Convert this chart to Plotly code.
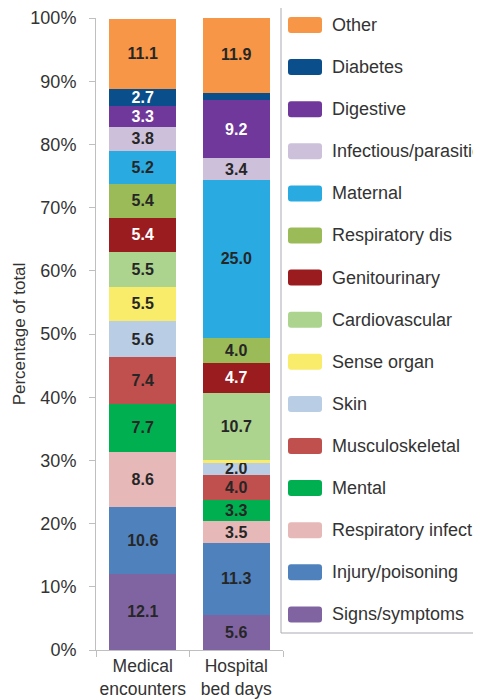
import plotly.graph_objects as go

# ---------------- data ----------------
groups = ["Medical<br>encounters", "Hospital<br>bed days"]

categories = [
    "Signs/symptoms", "Injury/poisoning", "Respiratory infect", "Mental",
    "Musculoskeletal", "Skin", "Sense organ", "Cardiovascular",
    "Genitourinary", "Respiratory dis", "Maternal", "Infectious/parasitic",
    "Digestive", "Diabetes", "Other",
]
medical_encounters = [12.1, 10.6, 8.6, 7.7, 7.4, 5.6, 5.5, 5.5, 5.4, 5.4, 5.2, 3.8, 3.3, 2.7, 11.1]
hospital_bed_days = [5.6, 11.3, 3.5, 3.3, 4.0, 2.0, 0.3, 10.7, 4.7, 4.0, 25.0, 3.4, 9.2, 1.2, 11.9]

colors = [
    "#8064a2", "#4f81bd", "#e6b9b8", "#00b050", "#c0504d", "#b9cde5",
    "#f9ec6b", "#acd48f", "#9b1c1f", "#9bbb59", "#29abe2", "#ccc0da",
    "#70389a", "#0a4f8c", "#f79646",
]
label_colors = [
    "#262626", "#262626", "#262626", "#262626", "#262626", "#262626",
    "#262626", "#262626", "#ffffff", "#262626", "#262626", "#262626",
    "#ffffff", "#ffffff", "#262626",
]

y_ticks = [0, 10, 20, 30, 40, 50, 60, 70, 80, 90, 100]
y_tick_text = [f"{t}%" for t in y_ticks]

FONT = "Liberation Sans, Arial, sans-serif"
OFF = 8  # page body margin
W, H = 481 - OFF, 700 - OFF
ML, MT = 96 - OFF, 18 - OFF
PW, PH = 187, 632
MR = W - ML - PW
MB = H - MT - PH

fig = go.Figure()
for cat, m, h, col, lc in zip(categories, medical_encounters, hospital_bed_days, colors, label_colors):
    txt = [f"<b>{v:.1f}</b>" if v >= 1.5 else "" for v in (m, h)]
    fig.add_trace(go.Bar(
        name=cat, x=groups, y=[m, h],
        marker=dict(color=col, line=dict(width=0)),
        text=txt, textposition="inside", insidetextanchor="middle",
        textangle=0, constraintext="none",
        textfont=dict(family=FONT, size=16, color=lc),
        showlegend=False, hoverinfo="skip",
    ))

# ---------------- custom legend (from category list) ----------------
def px_x(px):
    return (px - OFF - ML) / PW

def px_y(py):
    return (H - MB - (py - OFF)) / PH

shapes = [dict(
    type="rect", xref="paper", yref="paper",
    x0=px_x(281), x1=px_x(520), y0=px_y(633), y1=px_y(5),
    line=dict(color="#a9a9b3", width=1), fillcolor="rgba(0,0,0,0)", layer="below",
)]
annotations = []
step = 42.1
r = 3.0
for i, (cat, col) in enumerate(zip(categories[::-1], colors[::-1])):
    cy = 25 + i * step
    x0, x1 = 288, 322
    y0, y1 = cy - 8, cy + 8
    path = (
        f"M{px_x(x0 + r)},{px_y(y0)} L{px_x(x1 - r)},{px_y(y0)} "
        f"Q{px_x(x1)},{px_y(y0)} {px_x(x1)},{px_y(y0 + r)} "
        f"L{px_x(x1)},{px_y(y1 - r)} Q{px_x(x1)},{px_y(y1)} {px_x(x1 - r)},{px_y(y1)} "
        f"L{px_x(x0 + r)},{px_y(y1)} Q{px_x(x0)},{px_y(y1)} {px_x(x0)},{px_y(y1 - r)} "
        f"L{px_x(x0)},{px_y(y0 + r)} Q{px_x(x0)},{px_y(y0)} {px_x(x0 + r)},{px_y(y0)} Z"
    )
    shapes.append(dict(type="path", xref="paper", yref="paper", path=path,
                       fillcolor=col, line=dict(width=0)))
    annotations.append(dict(
        xref="paper", yref="paper", x=px_x(330), y=px_y(cy),
        xanchor="left", yanchor="middle", showarrow=False, text=cat,
        font=dict(family=FONT, size=18, color="#333333"),
    ))

fig.update_layout(
    width=W, height=H,
    margin=dict(l=ML, r=MR, t=MT, b=MB, pad=0, autoexpand=False),
    barmode="stack", bargap=0.28,
    plot_bgcolor="white", paper_bgcolor="white",
    font=dict(family=FONT, color="#333333"),
    shapes=shapes, annotations=annotations,
    showlegend=False,
)
fig.update_yaxes(
    range=[0, 100], tickvals=y_ticks, ticktext=y_tick_text,
    showgrid=False, zeroline=False, automargin=False,
    showline=True, linecolor="#bfbfbf", linewidth=1,
    ticks="outside", ticklen=6, tickcolor="#bfbfbf",
    tickfont=dict(family=FONT, size=18, color="#333333"),
    ticklabelstandoff=9,
    title=dict(text="Percentage of total", font=dict(family=FONT, size=17, color="#333333"), standoff=0),
)
fig.update_xaxes(
    showgrid=False, showline=True, linecolor="#bfbfbf", linewidth=1,
    automargin=False, tickangle=0,
    ticks="outside", ticklen=6, tickcolor="#bfbfbf", tickson="boundaries",
    tickfont=dict(family=FONT, size=17.5, color="#333333"),
)

fig.write_html("out.html")
